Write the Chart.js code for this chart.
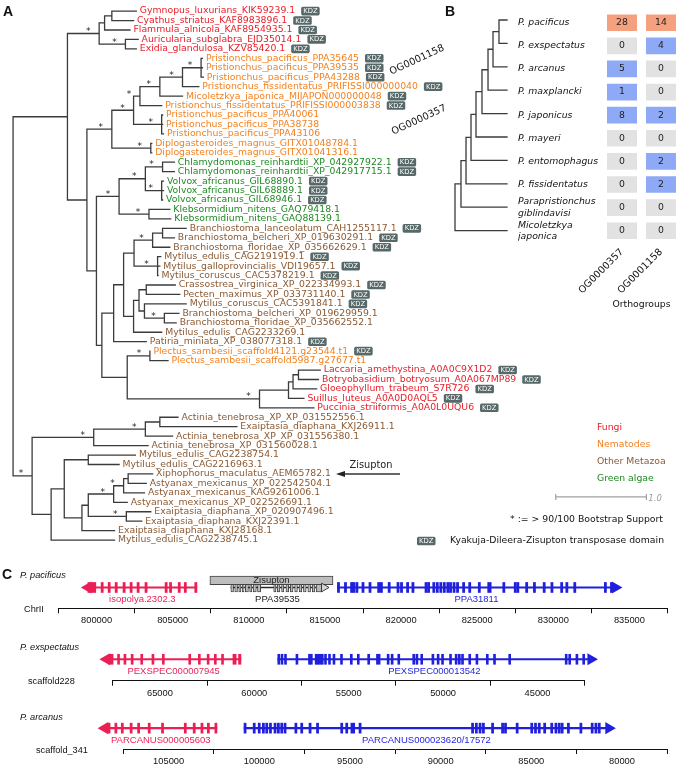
<!DOCTYPE html>
<html>
<head>
<meta charset="utf-8">
<script src="https://cdn.jsdelivr.net/npm/chart.js@4.4.1/dist/chart.umd.min.js"></script>
<style>
  html, body { margin: 0; padding: 0; background: #fff; }
  body { width: 685px; height: 765px; position: relative; overflow: hidden; }
  canvas { position: absolute; }
</style>
</head>
<body>
<canvas id="treeA" width="685" height="560" style="left:0;top:0"></canvas>
<canvas id="treeB" width="78" height="250" style="left:440px;top:0"></canvas>
<canvas id="heatB" width="167" height="312" style="left:518px;top:0"></canvas>
<canvas id="trk1" width="685" height="70" style="left:0;top:563px"></canvas>
<canvas id="trk2" width="685" height="68" style="left:0;top:635px"></canvas>
<canvas id="trk3" width="685" height="60" style="left:0;top:705px"></canvas>
<script>
// ---------- panel A: tree leaves ----------
const leafNames = [
  "Gymnopus_luxurians_KIK59239.1", "Cyathus_striatus_KAF8983896.1", "Flammula_alnicola_KAF8954935.1",
  "Auricularia_subglabra_EJD35014.1", "Exidia_glandulosa_KZV85420.1",
  "Pristionchus_pacificus_PPA35645", "Pristionchus_pacificus_PPA39535", "Pristionchus_pacificus_PPA43288",
  "Pristionchus_fissidentatus_PRIFISSI000000040", "Micoletzkya_japonica_MIJAPON000000048",
  "Pristionchus_fissidentatus_PRIFISSI000003838", "Pristionchus_pacificus_PPA40061",
  "Pristionchus_pacificus_PPA38738", "Pristionchus_pacificus_PPA43106",
  "Diplogasteroides_magnus_GITX01048784.1", "Diplogasteroides_magnus_GITX01041316.1",
  "Chlamydomonas_reinhardtii_XP_042927922.1", "Chlamydomonas_reinhardtii_XP_042917715.1",
  "Volvox_africanus_GIL68890.1", "Volvox_africanus_GIL68889.1", "Volvox_africanus_GIL68946.1",
  "Klebsormidium_nitens_GAQ79418.1", "Klebsormidium_nitens_GAQ88139.1",
  "Branchiostoma_lanceolatum_CAH1255117.1", "Branchiostoma_belcheri_XP_019630291.1",
  "Branchiostoma_floridae_XP_035662629.1", "Mytilus_edulis_CAG2191919.1",
  "Mytilus_galloprovincialis_VDI19657.1", "Mytilus_coruscus_CAC5378219.1",
  "Crassostrea_virginica_XP_022334993.1", "Pecten_maximus_XP_033731140.1",
  "Mytilus_coruscus_CAC5391841.1", "Branchiostoma_belcheri_XP_019629959.1",
  "Branchiostoma_floridae_XP_035662552.1", "Mytilus_edulis_CAG2233269.1",
  "Patiria_miniata_XP_038077318.1", "Plectus_sambesii_scaffold4121.g23544.t1",
  "Plectus_sambesii_scaffold5987.g27677.t1", "Laccaria_amethystina_A0A0C9X1D2",
  "Botryobasidium_botryosum_A0A067MP89", "Gloeophyllum_trabeum_S7R726",
  "Suillus_luteus_A0A0D0AQL5", "Puccinia_striiformis_A0A0L0UQU6",
  "Actinia_tenebrosa_XP_XP_031552556.1", "Exaiptasia_diaphana_KXJ26911.1",
  "Actinia_tenebrosa_XP_XP_031556380.1", "Actinia_tenebrosa_XP_031560028.1",
  "Mytilus_edulis_CAG2238754.1", "Mytilus_edulis_CAG2216963.1",
  "Xiphophorus_maculatus_AEM65782.1", "Astyanax_mexicanus_XP_022542504.1",
  "Astyanax_mexicanus_KAG9261006.1", "Astyanax_mexicanus_XP_022526691.1",
  "Exaiptasia_diaphana_XP_020907496.1", "Exaiptasia_diaphana_KXJ22391.1",
  "Exaiptasia_diaphana_KXJ28168.1", "Mytilus_edulis_CAG2238745.1"
];
// F fungi, N nematodes, M other metazoa, G green algae
const leafGroup = "FFFFFNNNNNNNNNNNGGGGGGGMMMMMMMMMMMMMNNFFFFFMMMMMMMMMMMMMM".split("");
const leafKdz = [1,1,1,1,1, 1,1,1,1,1, 1,0,0,0,0, 0,1,1,1,1, 1,0,0,1,1, 1,1,1,1,1,
                 1,1,0,0,0, 1,1,0,1,1, 1,1,1,0,0, 0,0,0,0,0, 0,0,0,0,0, 0,0];
// branch depth of each leaf tip (substitutions / site)
const leafTip = [1.36,1.33,1.29,1.38,1.36, 2.09,2.09,2.10,2.05,1.87, 1.64,1.65,1.65,1.66,1.53,
                 1.53,1.78,1.78,1.66,1.66, 1.65,1.73,1.74,1.91,1.78, 1.73,1.63,1.62,1.60,1.79,
                 1.84,1.91,1.83,1.80,1.64, 1.47,1.51,1.71,3.39,3.37, 3.35,3.21,3.32,1.82,2.47,
                 1.76,1.49,1.35,1.17,1.54, 1.47,1.45,1.26,1.52,1.42, 1.12,1.12];
// internal nodes: name, depth, bootstrap > 90, children (leaf numbers or node names)
const treeNodes = [
  ["gc", 1.09, 0, 1, 2], ["gcf", 1.01, 0, "gc", 3], ["ae", 1.24, 1, 4, 5], ["f1", 0.95, 1, "gcf", "ae"],
  ["pp1", 2.075, 1, 6, 7, 8], ["n180", 1.87, 1, "pp1", 9], ["n157", 1.62, 1, "n180", 10],
  ["n137", 1.40, 1, "n157", 11], ["pp2", 1.64, 1, 12, 13, 14], ["n130", 1.33, 1, "n137", "pp2"],
  ["dm", 1.52, 1, 15, 16], ["nem", 1.09, 1, "n130", "dm"],
  ["ch", 1.65, 1, 17, 18], ["vo", 1.64, 1, 19, 20, 21], ["cv", 1.46, 1, "ch", "vo"],
  ["kl", 1.50, 1, 22, 23], ["alg", 1.17, 1, "cv", "kl"],
  ["b12", 1.65, 0, 24, 25], ["b3", 1.54, 1, "b12", 26], ["my", 1.595, 1, 27, 28, 29],
  ["bm", 1.335, 0, "b3", "my"], ["cp", 1.47, 0, 30, 31], ["bp", 1.67, 1, 33, 34],
  ["mbp", 1.45, 0, 32, "bp"], ["cpm", 1.39, 0, "cp", "mbp"], ["cpe", 1.33, 0, "cpm", 35],
  ["met1", 1.22, 0, "bm", "cpe"], ["met2", 1.11, 0, "met1", 36],
  ["pl", 1.51, 1, 37, 38], ["lb", 3.15, 0, 39, 40], ["lbg", 3.09, 0, "lb", 41],
  ["lbgs", 3.04, 0, "lbg", 42], ["f2", 2.72, 1, "lbgs", 43], ["plf", 1.26, 0, "pl", "f2"],
  ["mix", 0.98, 0, "met2", "plf"], ["amix", 0.92, 0, "alg", "mix"], ["core", 0.815, 0, "nem", "amix"],
  ["up", 0.60, 0, "f1", "core"],
  ["ae2", 1.62, 0, 44, 45], ["ae3", 1.46, 1, "ae2", 46], ["act", 0.89, 1, "ae3", 47],
  ["me2", 0.83, 0, 48, 49], ["xa", 1.27, 0, 50, 51], ["xa2", 1.22, 1, "xa", 52],
  ["fish", 1.11, 1, "xa2", 53], ["ex", 1.25, 1, 54, 55], ["fe", 0.83, 0, "fish", "ex"],
  ["fe2", 0.76, 0, "fe", 56], ["lo1", 0.565, 0, "me2", "fe2"], ["lo2", 0.42, 0, "lo1", 57],
  ["low", 0.21, 1, "act", "lo2"], ["root", 0, 0, "up", "low"]
];
const groupNames = ["Fungi", "Nematodes", "Other Metazoa", "Green algae"];
const groupColor = { F: "#e8202c", N: "#f3811f", M: "#8a5a34", G: "#1f8a24" };
const scaleBarLen = 1.0;

// ---------- panel B ----------
const bSpecies = ["P. pacificus", "P. exspectatus", "P. arcanus", "P. maxplancki", "P. japonicus",
  "P. mayeri", "P. entomophagus", "P. fissidentatus", ["Parapristionchus", "giblindavisi"], ["Micoletzkya", "japonica"]];
const ogNames = ["OG0000357", "OG0001158"];
const og357 = [28, 0, 5, 1, 8, 0, 0, 0, 0, 0];
const og1158 = [14, 4, 0, 0, 2, 0, 2, 2, 0, 0];
const bNodeDepth = [0.846, 0.731, 0.635, 0.519, 0.404, 0.308, 0.212, 0.115, 0];

// ---------- panel C (genomic coordinates, bp) ----------
const isoExons = [800370, 800830, 801290, 801810, 802270, 802730, 803250, 804570, 804860, 805430, 805830, 806520];
const isoWide = [[799430, 799950]];
const isoArrow = 799425;
const ppa39535Boxes = [[808822, 808994], [809080, 809253], [809339, 809483], [809569, 809684], [809770, 809971],
  [810057, 810201], [810287, 810489], [810574, 810776], [811638, 811781], [811868, 812040], [812155, 812299],
  [812442, 812615], [812730, 812902], [813017, 813189], [813304, 813477], [813592, 813764], [813879, 814052],
  [814167, 814339], [814425, 814799]];
const ppa39535Arrow = 814942;
const zisuptonSpan = [807443, 815529];
const ppa31811Exons = [815890, 816350, 816750, 816900, 817100, 817500, 817960, 818530, 818710, 819220, 819800,
  820030, 820430, 820780, 821640, 821810, 822150, 822380, 822610, 822840, 823070, 823250, 823480, 823710,
  824110, 824510, 825140, 826750, 827500, 827670, 828250, 828760, 829400, 829910, 830550, 830890, 831410,
  833420, 833820];
const ppa31811Wide = [[825690, 825920]];
const ppa31811Arrow = 834080;

const pex7945Exons = [67190, 66852, 66470, 65962, 65369, 64818, 63420, 62911, 62445, 62064, 61682];
const pex7945Wide = [[67480, 67700], [60962, 61131], [60708, 60835]];
const pex7945Arrow = 67835;
const pex13542Exons = [58704, 58534, 58348, 57742, 57077, 56979, 56725, 56628, 56513, 56399, 56229, 56017,
  55780, 55382, 54861, 54492, 53942, 52912, 52700, 52348, 51556, 51387, 51133, 50540, 50264, 50030, 49606,
  49310, 49140, 48971, 48590, 48209, 47658, 47277, 46472, 43480, 43294, 42913, 42553];
const pex13542Wide = [[53336, 53530]];
const pex13542Arrow = 42171;

const parc5603Exons = [107909, 107555, 107068, 106655, 106071, 105336, 104081, 103589, 103162, 102808, 102394];
const parc5603Wide = [[108230, 108368]];
const parc5603Arrow = 108530;
const parc23620Exons = [100785, 100280, 100004, 99774, 99590, 99384, 99131, 98947, 98763, 98579, 97982, 97660,
  97200, 96787, 95454, 95178, 94443, 88238, 88031, 87825, 87641, 87135, 86584, 86423, 85780, 84975, 84768,
  84562, 84263, 83872, 83642, 83459, 83298, 82953, 82264, 81643, 81436, 81252];
const parc23620Wide = [[94742, 94949]];
const parc23620Arrow = 80724;

Chart.defaults.font.family = "'DejaVu Sans'";
Chart.defaults.animation = false;
Chart.defaults.responsive = false;
Chart.defaults.events = [];
Chart.defaults.plugins.legend.display = false;
Chart.defaults.plugins.tooltip.enabled = false;

// ---------- build tree A segments ----------
const nodePos = {};
const place = id => typeof id === "number" ? { x: leafTip[id - 1], y: id - 1 } : nodePos[id];
const treeSegments = [];
treeNodes.forEach(([name, depth, star, ...kids]) => {
  const pts = kids.map(place);
  const ys = pts.map(p => p.y);
  const y0 = Math.min(...ys), y1 = Math.max(...ys);
  nodePos[name] = { x: depth, y: (y0 + y1) / 2, star };
  treeSegments.push({ x: depth, y: y0 }, { x: depth, y: y1 }, { x: null, y: null });
  pts.forEach(p => treeSegments.push({ x: depth, y: p.y }, { x: p.x, y: p.y }, { x: null, y: null }));
});
const scaleBar = [{ x: 5.99, y: 51.43 }, { x: 5.99 + scaleBarLen, y: 51.43 }];

function kdzBadge(ctx, left, cy) {
  ctx.fillStyle = "#576868";
  ctx.beginPath();
  ctx.roundRect(left, cy - 4.3, 18.5, 8.6, 1.6);
  ctx.fill();
  ctx.fillStyle = "#fff";
  ctx.font = "6.8px 'DejaVu Sans'";
  ctx.textAlign = "center";
  ctx.textBaseline = "middle";
  ctx.fillText("KDZ", left + 9.25, cy + 0.3);
}

const treeText = {
  id: "treeText",
  afterDatasetsDraw(chart) {
    const { ctx, scales: { x, y } } = chart;
    ctx.save();
    leafNames.forEach((name, i) => {
      const px = x.getPixelForValue(leafTip[i]) + 3.5;
      const py = y.getPixelForValue(i);
      ctx.font = "9.3px 'DejaVu Sans'";
      ctx.textAlign = "left";
      ctx.textBaseline = "middle";
      ctx.fillStyle = groupColor[leafGroup[i]];
      ctx.fillText(name, px, py);
      if (leafKdz[i]) kdzBadge(ctx, px + ctx.measureText(name).width + 6, py);
    });
    // bootstrap stars
    ctx.font = "9px 'DejaVu Sans'";
    ctx.textAlign = "center";
    ctx.textBaseline = "alphabetic";
    ctx.fillStyle = "#222";
    Object.values(nodePos).forEach(n => {
      if (n.star) ctx.fillText("*", x.getPixelForValue(n.x) - 11, y.getPixelForValue(n.y) + 0.5);
    });
    // orthogroup clade labels
    ctx.fillStyle = "#111";
    ctx.font = "9.8px 'DejaVu Sans'";
    ctx.textBaseline = "middle";
    [["OG0001158", 417, 60], ["OG0000357", 419, 120]].forEach(([t, cx, cy]) => {
      ctx.save();
      ctx.translate(cx, cy);
      ctx.rotate(-25 * Math.PI / 180);
      ctx.fillText(t, 0, 0);
      ctx.restore();
    });
    // Zisupton arrow
    const zy = y.getPixelForValue(49);
    ctx.strokeStyle = "#333";
    ctx.lineWidth = 1.4;
    ctx.beginPath(); ctx.moveTo(400, zy); ctx.lineTo(343, zy); ctx.stroke();
    ctx.fillStyle = "#222";
    ctx.beginPath(); ctx.moveTo(336, zy); ctx.lineTo(345, zy - 3); ctx.lineTo(345, zy + 3); ctx.closePath(); ctx.fill();
    ctx.font = "9.8px 'DejaVu Sans'";
    ctx.fillText("Zisupton", 371, zy - 8);
    // legend
    ctx.textAlign = "left";
    ctx.font = "9.3px 'DejaVu Sans'";
    ["F", "N", "M", "G"].forEach((g, i) => {
      ctx.fillStyle = groupColor[g];
      ctx.fillText(groupNames[i], 597, 428 + i * 17);
    });
    ctx.fillStyle = "#9a9a9a";
    ctx.font = "italic 8.5px 'DejaVu Sans'";
    ctx.fillText(scaleBarLen.toFixed(1), x.getPixelForValue(scaleBar[1].x) + 2, y.getPixelForValue(scaleBar[1].y) + 2);
    ctx.fillStyle = "#111";
    ctx.font = "9.3px 'DejaVu Sans'";
    ctx.textAlign = "right";
    ctx.fillText("* := > 90/100 Bootstrap Support", 663, 520);
    kdzBadge(ctx, 417, 541);
    ctx.fillStyle = "#111";
    ctx.font = "9.3px 'DejaVu Sans'";
    ctx.textAlign = "left";
    ctx.fillText("Kyakuja-Dileera-Zisupton transposase domain", 450, 541);
    // panel letters
    ctx.font = "bold 14px 'Liberation Sans'";
    ctx.fillText("A", 3, 12);
    ctx.fillText("B", 445, 12);
    ctx.restore();
  }
};

new Chart(document.getElementById("treeA"), {
  type: "scatter",
  data: {
    datasets: [
      { data: treeSegments, showLine: true, borderColor: "#3b3b3b", borderWidth: 1.3, borderCapStyle: "square", pointRadius: 0 },
      { data: scaleBar, showLine: true, borderColor: "#a0a0a0", borderWidth: 1.2, pointStyle: "line", rotation: 90,
        pointRadius: 3, pointBorderColor: "#a0a0a0", pointBorderWidth: 1.2 }
    ]
  },
  options: {
    layout: { padding: 0 },
    scales: {
      x: { type: "linear", display: false, min: -0.087, max: 7.359 },
      y: { type: "linear", display: false, reverse: true, min: -0.623, max: 57.56 }
    }
  },
  plugins: [treeText]
});

// ---------- panel B: species tree ----------
const bTreeSegs = [];
let prevY = 0, prevX = 1;
bNodeDepth.forEach((d, i) => {
  const row = i + 1;
  bTreeSegs.push({ x: d, y: prevY }, { x: d, y: row }, { x: null, y: null });
  bTreeSegs.push({ x: d, y: prevY }, { x: prevX, y: prevY }, { x: null, y: null });
  bTreeSegs.push({ x: d, y: row }, { x: 1, y: row }, { x: null, y: null });
  prevY = (prevY + row) / 2;
  prevX = d;
});

new Chart(document.getElementById("treeB"), {
  type: "scatter",
  data: { datasets: [{ data: bTreeSegs, showLine: true, borderColor: "#3b3b3b", borderWidth: 1.3, borderCapStyle: "square", pointRadius: 0, clip: false }] },
  options: {
    layout: { padding: { left: 15, right: 11, top: 8.3, bottom: 7.7 } },
    scales: {
      x: { type: "linear", display: false, min: 0, max: 1 },
      y: { type: "linear", display: false, reverse: true, min: -0.5, max: 9.5 }
    }
  }
});

// ---------- panel B: heatmap ----------
const ogCounts = [og357, og1158];
const cellColor = v => v >= 10 ? "#f5a07e" : v > 0 ? "#8eaaf6" : "#e2e2e2";
const cellText = {
  id: "cellText",
  afterDatasetsDraw(chart) {
    const { ctx } = chart;
    ctx.save();
    ctx.font = "9.3px 'DejaVu Sans'";
    ctx.fillStyle = "#222";
    ctx.textAlign = "center";
    ctx.textBaseline = "middle";
    ogCounts.forEach((counts, di) => {
      chart.getDatasetMeta(di).data.forEach((bar, i) => {
        const c = bar.getCenterPoint();
        ctx.fillText(String(counts[i]), c.x, c.y);
      });
    });
    ctx.restore();
  }
};

new Chart(document.getElementById("heatB"), {
  type: "bar",
  data: {
    labels: bSpecies,
    datasets: [
      { data: og357.map(() => [0.115, 0.885]), backgroundColor: og357.map(cellColor) },
      { data: og1158.map(() => [1.115, 1.885]), backgroundColor: og1158.map(cellColor) }
    ]
  },
  options: {
    indexAxis: "y",
    layout: { padding: { top: 8.3, right: 4.5, left: 0, bottom: 0 } },
    datasets: { bar: { grouped: false, barPercentage: 0.72, categoryPercentage: 1, borderWidth: 0 } },
    scales: {
      y: {
        type: "category",
        grid: { display: false },
        border: { display: false },
        afterFit: s => { s.width = 84.5; },
        ticks: { autoSkip: false, crossAlign: "far", padding: 0, color: "#111", font: { size: 9.3, style: "italic" } }
      },
      x: {
        type: "linear", min: 0, max: 2,
        grid: { display: false },
        border: { display: false },
        afterBuildTicks: s => { s.ticks = [{ value: 0.5 }, { value: 1.5 }]; },
        afterFit: s => { s.height = 69.7; },
        ticks: { autoSkip: false, minRotation: 45, maxRotation: 45, padding: -4, color: "#111", font: { size: 9.8 },
                 callback: (v, i) => ogNames[i] },
        title: { display: true, text: "Orthogroups", color: "#111", font: { size: 9.3 }, padding: { top: 0, bottom: 2 } }
      }
    }
  },
  plugins: [cellText]
});

// ---------- panel C: gene tracks ----------
const GENE_RED = "#ec1f55", GENE_BLUE = "#1f1fdc";
const tracks = [
  { id: "trk1", species: "P. pacificus", chrom: "ChrII", chromX: 24, letter: "C",
    min: 800000, max: 835000, reverse: false, pad: { left: 58.5, right: 17.5 }, axisH: 24.7, ymin: -1.9, ymax: 2.63, exonW: 140,
    box: { label: "Zisupton", range: zisuptonSpan, y: 1.43 },
    genes: [
      { label: "isopolya.2302.3", color: GENE_RED, exons: isoExons, wide: isoWide, arrow: isoArrow, dir: -1 },
      { label: "PPA39535", color: "#222", fill: "#b8b8b8", stroke: "#2b2b2b", h: 9, lineW: 1, exons: [], wide: ppa39535Boxes,
        arrow: ppa39535Arrow, dir: 1, open: true, r: 5 },
      { label: "PPA31811", color: GENE_BLUE, exons: ppa31811Exons, wide: ppa31811Wide, arrow: ppa31811Arrow, dir: 1 }
    ] },
  { id: "trk2", species: "P. exspectatus", chrom: "scaffold228", chromX: 28,
    min: 45000, max: 65000, reverse: true, pad: { left: 112.7, right: 100.3 }, axisH: 22.3, ymin: -2.0, ymax: 2.57, exonW: 105,
    genes: [
      { label: "PEXSPEC000007945", color: GENE_RED, exons: pex7945Exons, wide: pex7945Wide, arrow: pex7945Arrow, dir: -1 },
      { label: "PEXSPEC000013542", color: GENE_BLUE, exons: pex13542Exons, wide: pex13542Wide, arrow: pex13542Arrow, dir: 1 }
    ] },
  { id: "trk3", species: "P. arcanus", chrom: "scaffold_341", chromX: 36,
    min: 80000, max: 105000, reverse: true, pad: { left: 123.3, right: 17.7 }, axisH: 16, ymin: -1.97, ymax: 2.43, exonW: 115,
    genes: [
      { label: "PARCANUS000005603", color: GENE_RED, exons: parc5603Exons, wide: parc5603Wide, arrow: parc5603Arrow, dir: -1 },
      { label: "PARCANUS000023620/17572", color: GENE_BLUE, exons: parc23620Exons, wide: parc23620Wide, arrow: parc23620Arrow, dir: 1 }
    ] }
];

function trackPlugin(t) {
  return {
    id: "trackText",
    afterDatasetsDraw(chart) {
      const { ctx, chartArea, scales: { x, y } } = chart;
      const gy = y.getPixelForValue(0);
      ctx.save();
      t.genes.forEach(g => {
        const px = x.getPixelForValue(g.arrow), r = g.r || 7;
        ctx.beginPath();
        ctx.moveTo(px + g.dir * r, gy);
        ctx.lineTo(px - g.dir * r * 0.5, gy - r * 0.87);
        ctx.lineTo(px - g.dir * r * 0.5, gy + r * 0.87);
        ctx.closePath();
        ctx.fillStyle = g.open ? "#d9d9d9" : g.color;
        ctx.fill();
        if (g.open) { ctx.strokeStyle = g.stroke; ctx.lineWidth = 0.9; ctx.stroke(); }
        ctx.font = "9.5px 'Liberation Sans'";
        ctx.textAlign = "center";
        ctx.textBaseline = "middle";
        ctx.fillStyle = g.color;
        ctx.fillText(g.label, x.getPixelForValue((g.lo + g.hi) / 2), gy + 12.3);
      });
      if (t.box) {
        ctx.fillStyle = "#222";
        ctx.font = "9.5px 'Liberation Sans'";
        ctx.fillText(t.box.label, x.getPixelForValue((t.box.range[0] + t.box.range[1]) / 2), y.getPixelForValue(t.box.y) + 0.5);
      }
      ctx.textAlign = "left";
      ctx.fillStyle = "#111";
      ctx.font = "italic 9.2px 'Liberation Sans'";
      ctx.fillText(t.species, 20, 12);
      ctx.font = "9.2px 'Liberation Sans'";
      ctx.fillText(t.chrom, t.chromX, chartArea.bottom + 1);
      if (t.letter) {
        ctx.font = "bold 14px 'Liberation Sans'";
        ctx.fillText(t.letter, 2, 12);
      }
      ctx.restore();
    }
  };
}

tracks.forEach(t => {
  const common = { type: "bar", indexAxis: "y", grouped: false, clip: false, borderSkipped: false };
  const datasets = [];
  t.genes.forEach(g => {
    const bars = g.exons.map(c => ({ x: [c - t.exonW / 2, c + t.exonW / 2], y: 0 }));
    g.wide.forEach(p => bars.push({ x: p, y: 0 }));
    const ends = bars.flatMap(b => b.x).concat([g.arrow]);
    g.lo = Math.min(...ends);
    g.hi = Math.max(...ends);
    datasets.push({ ...common, order: 3, data: [{ x: [g.lo, g.hi], y: 0 }], backgroundColor: g.stroke || g.color,
      barThickness: g.lineW || 1.4, borderWidth: 0 });
    datasets.push({ ...common, order: 2, data: bars, backgroundColor: g.fill || g.color,
      borderColor: g.stroke || g.color, borderWidth: g.stroke ? 0.8 : 0, barThickness: g.h || 10 });
  });
  if (t.box) {
    datasets.push({ ...common, order: 1, data: [{ x: t.box.range, y: t.box.y }], backgroundColor: "#bdbdbd",
      borderColor: "#444", borderWidth: 1, barThickness: 8.6 });
  }
  new Chart(document.getElementById(t.id), {
    type: "bar",
    data: { datasets },
    options: {
      layout: { padding: { left: t.pad.left, right: t.pad.right, top: 0, bottom: 0 } },
      scales: {
        x: {
          type: "linear", min: t.min, max: t.max, reverse: t.reverse, position: "bottom",
          afterFit: s => { s.height = t.axisH; },
          border: { display: true, color: "#111", width: 1 },
          grid: { drawOnChartArea: false, drawTicks: true, tickLength: 5, color: "#111" },
          ticks: { stepSize: 5000, autoSkip: false, maxRotation: 0, padding: 2, color: "#111",
                   font: { family: "'Liberation Sans'", size: 9.3 }, callback: v => String(v) }
        },
        y: { type: "linear", display: false, min: t.ymin, max: t.ymax }
      }
    },
    plugins: [trackPlugin(t)]
  });
});
</script>
</body>
</html>
